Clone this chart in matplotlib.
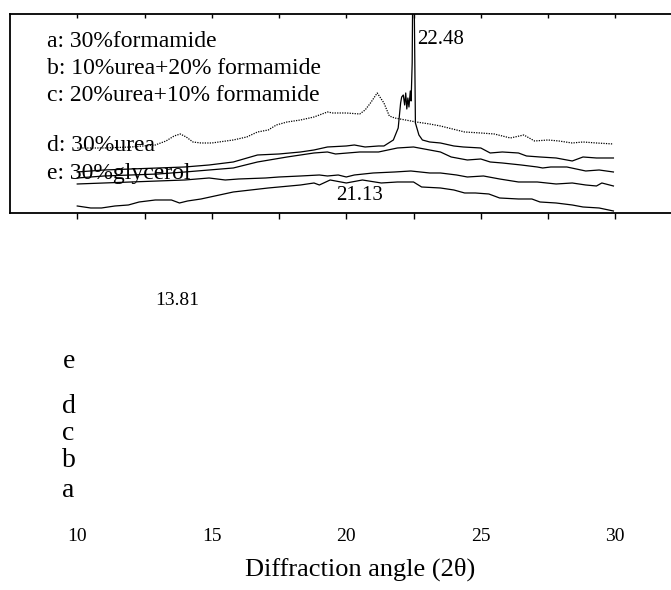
import matplotlib
matplotlib.use("Agg")
import matplotlib.pyplot as plt

plt.rcParams['font.family'] = ['Liberation Serif', 'DejaVu Serif']

# XRD patterns, 2theta (deg) and intensity (arbitrary units)
a_x = [10.0, 11.0, 12.0, 12.9, 13.3, 13.6, 13.83, 14.05, 14.3, 14.6, 15.0, 15.8, 16.3, 16.7, 17.1,
       17.4, 17.8, 18.3, 18.8, 19.3, 19.5, 20.0, 20.5, 20.7, 20.9, 21.15, 21.4, 21.6, 21.8, 22.6,
       23.1, 23.5, 23.8, 24.4, 25.0, 25.5, 26.1, 26.6, 27.0, 27.5, 27.9, 28.4, 28.8, 29.3, 29.93]
a_y = [65, 65, 66, 68, 72, 77, 79, 76, 71, 70, 70, 73, 76, 81, 83,
       88, 91, 93, 96, 101, 100, 100, 99, 103, 110, 120, 110, 97, 95, 91,
       89, 87, 85, 81, 80, 79, 75, 78, 72, 73, 72, 70, 71, 70, 69]

b_x = [10.0, 11.0, 12.0, 13.0, 14.0, 14.9, 15.8, 16.7, 17.5, 18.3, 18.8, 19.3, 20.0, 20.3, 20.7,
       21.2, 21.4, 21.75, 21.93, 22.02, 22.06, 22.12, 22.17, 22.21, 22.25, 22.29, 22.33, 22.38,
       22.41, 22.45, 22.48, 22.53, 22.57, 22.7, 22.83, 23.1, 23.5, 24.0, 24.35, 25.0, 25.35, 25.8,
       26.4, 26.7, 27.2, 27.8, 28.4, 28.8, 29.3, 29.93]
b_y = [41, 43, 44, 45, 46, 48, 51, 58, 59, 61, 63, 66, 67, 68, 66,
       67, 67, 73, 85, 110, 116, 118, 108, 120, 104, 115, 106, 122,
       112, 150, 260, 200, 90, 78, 73, 71, 70, 67, 66, 65, 60, 61,
       60, 57, 56, 55, 52, 56, 55, 55]

c_x = [10.0, 11.0, 12.0, 13.0, 14.0, 14.9, 15.8, 16.7, 17.8, 18.8, 19.3, 19.6, 20.5, 21.2, 21.9,
       22.5, 23.1, 23.5, 23.9, 24.5, 25.0, 25.35, 25.8, 26.5, 27.1, 27.3, 27.6, 28.2, 28.9, 29.4, 29.93]
c_y = [35, 37, 38, 39, 41, 43, 45, 51, 56, 60, 61, 59, 61, 61, 65,
       66, 63, 61, 56, 53, 54, 51, 50, 48, 46, 45, 46, 46, 42, 43, 41]

d_x = [10.0, 11.0, 12.0, 13.0, 14.0, 14.9, 15.5, 16.0, 17.0, 17.5, 18.3, 19.0, 19.3, 19.7, 20.0,
       20.3, 21.0, 21.8, 22.4, 23.1, 23.5, 24.1, 24.5, 25.1, 25.7, 26.4, 27.1, 27.8, 28.4, 28.9,
       29.3, 29.5, 29.93]
d_y = [29, 30, 31, 32, 33, 35, 33, 34, 35, 36, 37, 38, 37, 38, 36,
       38, 40, 41, 42, 40, 40, 38, 36, 37, 34, 31, 31, 29, 30, 28,
       27, 30, 27]

e_x = [10.0, 10.5, 10.9, 11.4, 11.9, 12.3, 12.9, 13.5, 13.8, 14.1, 14.6, 15.8, 17.1, 18.3, 18.8,
       19.0, 19.4, 20.0, 20.6, 21.3, 21.9, 22.5, 22.8, 23.5, 24.0, 24.4, 24.8, 25.3, 25.7, 26.4,
       26.9, 27.2, 27.8, 28.4, 28.8, 29.4, 29.93]
e_y = [7, 5, 5, 7, 8, 11, 13, 13, 10, 12, 14, 21, 25, 28, 30,
       28, 33, 30, 33, 30, 31, 31, 26, 25, 23, 20, 20, 19, 15, 14,
       14, 11, 10, 8, 6, 5, 2]

legend_lines = ["a: 30%formamide", "b: 10%urea+20% formamide", "c: 20%urea+10% formamide",
                "d: 30%urea", "e: 30%glycerol"]
legend_y = [166, 139, 112, 62, 34]
side_letters = ["e", "d", "c", "b", "a"]
side_y = [-155, -200, -227, -254, -284]
peaks = [22.48, 21.13, 13.81]
major = [10, 15, 20, 25, 30]
minor = [12.5, 17.5, 22.5, 27.5, 32.5]

fig = plt.figure(figsize=(6.71, 5.90), dpi=100)
ax = fig.add_axes([0.0149, 0.639, 1.0424, 0.3373])

ax.plot(a_x, a_y, color='black', lw=0.9, linestyle=(0, (1, 1)))
for xs, ys in [(b_x, b_y), (c_x, c_y), (d_x, d_y), (e_x, e_y)]:
    ax.plot(xs, ys, color='black', lw=0.9)

ax.set_xlim(7.5, 33.5)
ax.set_ylim(0, 199)
ax.set_yticks([])
ax.set_xticks(major)
ax.set_xticks(minor, minor=True)
for s in ax.spines.values():
    s.set_linewidth(1.3)
ax.spines['right'].set_visible(False)
ax.tick_params(axis='x', which='both', direction='out', length=4, width=1, labelsize=14, pad=223)
ax.set_xlabel("Diffraction angle (2\u03b8)", fontsize=19, labelpad=9)

# small ticks on the top frame line
top = ax.secondary_xaxis('top')
top.set_xticks(major)
top.set_xticks(minor, minor=True)
top.tick_params(which='both', direction='in', length=3, width=1, labeltop=False)
top.spines['top'].set_visible(False)

for txt, yy in zip(legend_lines, legend_y):
    ax.text(8.885, yy, txt, fontsize=17, va='baseline', ha='left')

ax.text(22.64, 169, "%.2f" % peaks[0], fontsize=15, va='baseline', ha='left')
ax.text(19.63, 13, "%.2f" % peaks[1], fontsize=15, va='baseline', ha='left')
ax.text(13.7, -92, "%.2f" % peaks[2], fontsize=14, va='baseline', ha='center', clip_on=False)

for lt, yy in zip(side_letters, side_y):
    ax.text(9.45, yy, lt, fontsize=20, va='baseline', ha='left', clip_on=False)

plt.savefig("out.png", dpi=100)
